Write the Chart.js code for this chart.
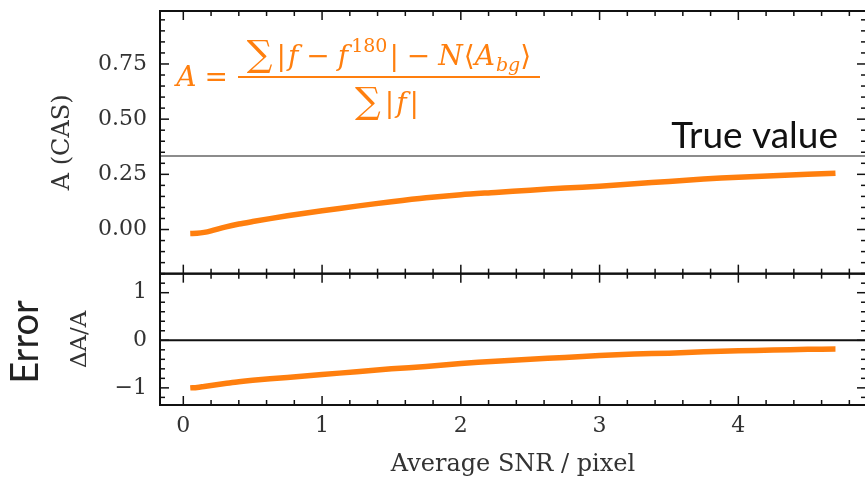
<!DOCTYPE html>
<html>
<head>
<meta charset="utf-8">
<script src="https://cdn.jsdelivr.net/npm/chart.js"></script>
<style>
  html, body { margin: 0; padding: 0; background: #fff; overflow: hidden; }
  #wrap { width: 870px; height: 480px; }
</style>
</head>
<body>
<div id="wrap"><canvas id="snrChart" width="870" height="480"></canvas></div>
<script>
// values
var snr    = [0.05, 0.1, 0.15, 0.2, 0.3, 0.4, 0.5, 0.75, 1.0, 1.25, 1.5, 1.75, 2.0, 2.25, 2.5, 2.75, 3.0, 3.25, 3.5, 3.75, 4.0, 4.25, 4.5, 4.7];
var casA   = [-0.018, -0.017, -0.013, -0.006, 0.011, 0.025, 0.036, 0.062, 0.085, 0.106, 0.126, 0.144, 0.158, 0.168, 0.178, 0.188, 0.196, 0.207, 0.218, 0.229, 0.237, 0.244, 0.250, 0.255];
var relErr = [-1.0, -0.99, -0.97, -0.95, -0.91, -0.87, -0.84, -0.78, -0.72, -0.66, -0.60, -0.55, -0.49, -0.44, -0.40, -0.36, -0.32, -0.29, -0.27, -0.24, -0.22, -0.205, -0.19, -0.185];
var trueA = 1 / 3;
var xRange = [-0.168, 4.92];
var xTicks = [0, 1, 2, 3, 4];
var casTicks = [0, 0.25, 0.5, 0.75];
var errTicks = [-1, 0, 1];

var orange = '#ff7f0e';
var serif = '"DejaVu Serif", serif';

function pts(ys) {
    return snr.map(function (x, i) { return { x: x, y: ys[i] }; });
}

function fixTicks(list) {
    return function (scale) {
        scale.ticks = list.map(function (v) { return { value: v }; });
    };
}

function fitY(s) {
    s.width = 160;
    s.paddingTop = 0;
    s.paddingBottom = 0;
}

function line(ctx, x1, y1, x2, y2) {
    ctx.beginPath();
    ctx.moveTo(x1, y1);
    ctx.lineTo(x2, y2);
    ctx.stroke();
}

// boxes + inward ticks like the matplotlib frame
var framePlugin = {
    id: 'frame',
    afterDraw: function (chart) {
        var ctx = chart.ctx, xs = chart.scales.x;
        var L = chart.chartArea.left, R = chart.chartArea.right;
        ctx.save();
        ctx.strokeStyle = '#111';
        [['yA', 0.05, 5], ['yE', 0.2, 5]].forEach(function (p) {
            var ys = chart.scales[p[0]], step = p[1], every = p[2];
            ctx.lineWidth = 2;
            ctx.strokeRect(L, ys.top, R - L, ys.bottom - ys.top);
            ctx.lineWidth = 1.5;
            for (var k = Math.ceil(xs.min / 0.2); k * 0.2 <= xs.max; k++) {
                var px = xs.getPixelForValue(k * 0.2);
                var len = k % 5 === 0 ? 9 : 5;
                line(ctx, px, ys.top, px, ys.top + len);
                line(ctx, px, ys.bottom, px, ys.bottom - len);
            }
            for (var j = Math.ceil(ys.min / step - 1e-9); j * step <= ys.max + 1e-9; j++) {
                var py = ys.getPixelForValue(j * step);
                var l2 = j % every === 0 ? 9 : 5;
                line(ctx, L, py, L + l2, py);
                line(ctx, R, py, R - l2, py);
            }
        });
        ctx.restore();
    }
};

// lay out a run of text pieces, centred on cx
function run(ctx, parts, cx, baseY) {
    var w = 0;
    parts.forEach(function (p) {
        ctx.font = p.f;
        p.w = ctx.measureText(p.t).width + (p.g || 0);
        w += p.w;
    });
    var x = cx - w / 2;
    parts.forEach(function (p) {
        ctx.font = p.f;
        ctx.fillText(p.t, x, baseY + (p.dy || 0));
        x += p.w;
    });
}

var notesPlugin = {
    id: 'notes',
    afterDraw: function (chart) {
        var ctx = chart.ctx;
        ctx.save();
        ctx.textAlign = 'left';
        ctx.textBaseline = 'alphabetic';

        // formula
        var up = '28px ' + serif, it = 'italic 28px ' + serif, big = '36px ' + serif;
        var sm = '19px ' + serif, smIt = 'italic 19px ' + serif;
        ctx.fillStyle = orange;
        ctx.strokeStyle = orange;
        run(ctx, [{ t: 'A', f: it, g: 8 }, { t: '=', f: up }], 202, 86);
        run(ctx, [
            { t: '\u2211', f: big, g: 4, dy: 1 }, { t: '|', f: up, g: 2 }, { t: 'f', f: it, g: 8 },
            { t: '\u2212', f: up, g: 8 }, { t: 'f', f: it, g: 3 }, { t: '180', f: sm, g: 2, dy: -13 },
            { t: '|', f: up, g: 8 }, { t: '\u2212', f: up, g: 8 }, { t: 'N', f: it, g: 1 },
            { t: '\u27E8', f: up }, { t: 'A', f: it, g: 1 }, { t: 'bg', f: smIt, dy: 6 }, { t: '\u27E9', f: up }
        ], 389, 65);
        ctx.lineWidth = 2;
        line(ctx, 238, 77, 540, 77);
        run(ctx, [
            { t: '\u2211', f: big, g: 4, dy: 1 }, { t: '|', f: up, g: 2 }, { t: 'f', f: it, g: 3 }, { t: '|', f: up }
        ], 387, 112);

        // true value label
        ctx.fillStyle = '#111';
        ctx.font = '37px Lato, sans-serif';
        ctx.textAlign = 'right';
        ctx.fillText('True value', 838, 148);

        // Error label
        ctx.translate(26, 342);
        ctx.rotate(-Math.PI / 2);
        ctx.textAlign = 'center';
        ctx.textBaseline = 'middle';
        ctx.font = '38px Lato, sans-serif';
        ctx.fillStyle = '#222';
        ctx.fillText('Error', 0, 0);
        ctx.restore();
    }
};

new Chart('snrChart', {
    type: 'line',
    data: {
        datasets: [{
            data: pts(casA),
            yAxisID: 'yA',
            borderColor: orange,
            borderWidth: 5.5,
            pointRadius: 0,
            tension: 0.3
        }, {
            data: pts(relErr),
            yAxisID: 'yE',
            borderColor: orange,
            borderWidth: 5.5,
            pointRadius: 0,
            tension: 0.3
        }, {
            data: [{ x: xRange[0], y: trueA }, { x: xRange[1], y: trueA }],
            yAxisID: 'yA',
            borderColor: '#666',
            borderWidth: 1.5,
            pointRadius: 0
        }, {
            data: [{ x: xRange[0], y: 0 }, { x: xRange[1], y: 0 }],
            yAxisID: 'yE',
            borderColor: '#111',
            borderWidth: 2,
            pointRadius: 0
        }]
    },
    options: {
        responsive: false,
        animation: false,
        layout: { padding: { top: 11, right: 4, left: 0, bottom: 0 } },
        plugins: { legend: { display: false }, tooltip: { enabled: false } },
        scales: {
            x: {
                type: 'linear',
                min: xRange[0],
                max: xRange[1],
                afterFit: function (s) { s.height = 75; s.paddingLeft = 0; s.paddingRight = 0; },
                afterBuildTicks: fixTicks(xTicks),
                grid: { drawOnChartArea: false, drawTicks: false },
                border: { display: false },
                ticks: { color: '#333', font: { family: serif, size: 22 }, padding: 8, maxRotation: 0 },
                title: { display: true, text: 'Average SNR / pixel', color: '#333', font: { family: serif, size: 24 }, padding: { top: 0, bottom: 1 } }
            },
            yE: {
                type: 'linear',
                position: 'left',
                stack: 'panels',
                stackWeight: 1,
                min: -1.36,
                max: 1.4,
                afterFit: fitY,
                afterBuildTicks: fixTicks(errTicks),
                grid: { drawOnChartArea: false, drawTicks: false },
                border: { display: false },
                ticks: {
                    color: '#333', font: { family: serif, size: 22 }, padding: 13,
                    callback: function (v) { return v < 0 ? '\u2212' + Math.abs(v) : String(v); }
                },
                title: { display: true, text: '\u0394A/A', color: '#333', font: { family: serif, size: 23 }, padding: { top: 66, bottom: 0 } }
            },
            yA: {
                type: 'linear',
                position: 'left',
                stack: 'panels',
                stackWeight: 2,
                min: -0.2,
                max: 0.99,
                afterFit: fitY,
                afterBuildTicks: fixTicks(casTicks),
                grid: { drawOnChartArea: false, drawTicks: false },
                border: { display: false },
                ticks: {
                    color: '#333', font: { family: serif, size: 22 }, padding: 13,
                    callback: function (v) { return v.toFixed(2); }
                },
                title: { display: true, text: 'A (CAS)', color: '#333', font: { family: serif, size: 24 }, padding: { top: 48, bottom: 0 } }
            }
        }
    },
    plugins: [framePlugin, notesPlugin]
});
</script>
</body>
</html>
